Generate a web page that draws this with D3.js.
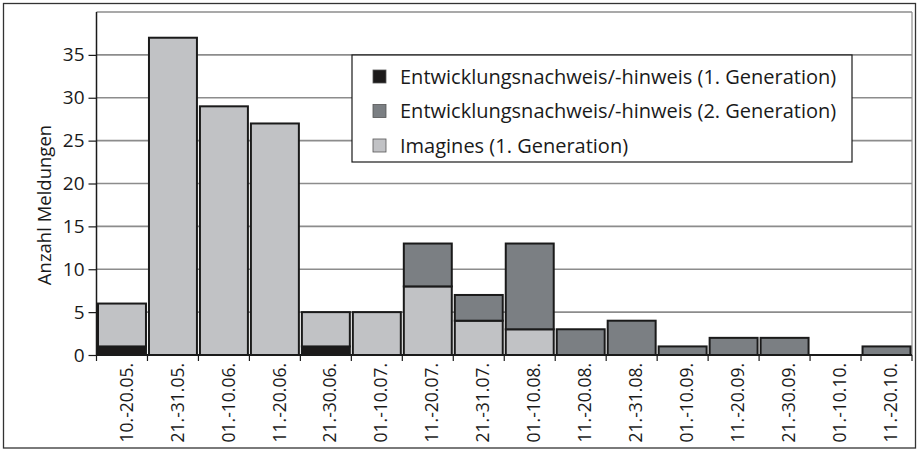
<!DOCTYPE html>
<html>
<head>
<meta charset="utf-8">
<script src="https://cdn.jsdelivr.net/npm/d3@7"></script>
<style>
  body { margin: 0; background: #fff; }
  text { font-family: "Open Sans", sans-serif; fill: #1a1a1a; }
</style>
</head>
<body>
<svg id="chart" width="918" height="451"></svg>
<script>
// decades (Dekaden) of the season
var categories = ["10.-20.05.", "21.-31.05.", "01.-10.06.", "11.-20.06.", "21.-30.06.",
  "01.-10.07.", "11.-20.07.", "21.-31.07.", "01.-10.08.", "11.-20.08.", "21.-31.08.",
  "01.-10.09.", "11.-20.09.", "21.-30.09.", "01.-10.10.", "11.-20.10."];

// number of reports per series
var dev1     = [1, 0, 0, 0, 1, 0, 0, 0, 0, 0, 0, 0, 0, 0, 0, 0];
var imagines = [5, 37, 29, 27, 4, 5, 8, 4, 3, 0, 0, 0, 0, 0, 0, 0];
var dev2     = [0, 0, 0, 0, 0, 0, 5, 3, 10, 3, 4, 1, 2, 2, 0, 1];

var seriesKeys = ["dev1", "imagines", "dev2"];
var legendNames = ["Entwicklungsnachweis/-hinweis (1. Generation)",
  "Entwicklungsnachweis/-hinweis (2. Generation)",
  "Imagines (1. Generation)"];
var legendKeys = ["dev1", "dev2", "imagines"];
var yTicks = [0, 5, 10, 15, 20, 25, 30, 35];
var yGrid = [5, 10, 15, 20, 25, 30, 35, 40];

var colors = {dev1: "#1c1a1a", dev2: "#7b7f83", imagines: "#c1c2c5"};

var width = 918, height = 451;
var margin = {top: 12, right: 6, bottom: 96, left: 96.5};

var svg = d3.select("#chart");

// outer frame
svg.append("rect")
  .attr("x", 3.5).attr("y", 3.5)
  .attr("width", 912).attr("height", 444.5)
  .attr("fill", "none")
  .attr("stroke", "#333")
  .attr("stroke-width", 1.3);

var x = d3.scaleBand()
  .domain(categories)
  .range([margin.left, width - margin.right]);

var y = d3.scaleLinear()
  .domain([0, 40])
  .range([height - margin.bottom, margin.top]);

// grid
svg.append("g")
  .selectAll("line")
  .data(yGrid)
  .join("line")
  .attr("x1", margin.left)
  .attr("x2", width - margin.right)
  .attr("y1", function(d) { return y(d); })
  .attr("y2", function(d) { return y(d); })
  .attr("stroke", "#8c8c8c")
  .attr("stroke-width", 1.6);

// right edge of plot area
svg.append("line")
  .attr("x1", width - margin.right).attr("x2", width - margin.right)
  .attr("y1", y(40)).attr("y2", y(0))
  .attr("stroke", "#8c8c8c")
  .attr("stroke-width", 1.2);

// stacked bars
var table = categories.map(function(c, i) {
  return {cat: c, dev1: dev1[i], imagines: imagines[i], dev2: dev2[i]};
});
var stacked = d3.stack().keys(seriesKeys)(table);

var gap = 1.5;
svg.append("g")
  .selectAll("g")
  .data(stacked)
  .join("g")
  .attr("fill", function(s) { return colors[s.key]; })
  .selectAll("rect")
  .data(function(s) { return s.filter(function(d) { return d[1] > d[0]; }); })
  .join("rect")
  .attr("x", function(d) { return x(d.data.cat) + gap; })
  .attr("width", x.bandwidth() - 2 * gap)
  .attr("y", function(d) { return y(d[1]); })
  .attr("height", function(d) { return y(d[0]) - y(d[1]); })
  .attr("stroke", "#1a1a1a")
  .attr("stroke-width", 2);

// y axis
var yAxis = svg.append("g")
  .attr("transform", "translate(" + margin.left + ",0)")
  .call(d3.axisLeft(y).tickValues(yTicks).tickSize(8).tickPadding(4));
yAxis.select(".domain").remove();
yAxis.append("line")
  .attr("x1", 0).attr("x2", 0)
  .attr("y1", y(40)).attr("y2", y(0))
  .attr("stroke", "#1a1a1a").attr("stroke-width", 1.5);
yAxis.selectAll(".tick line").attr("stroke", "#1a1a1a").attr("stroke-width", 1.2);
yAxis.selectAll(".tick text")
  .attr("font-size", "19px")
  .attr("font-family", "Open Sans, sans-serif")
  .attr("fill", "#1a1a1a");

// x axis
var xAxis = svg.append("g")
  .attr("transform", "translate(0," + y(0) + ")");
xAxis.append("line")
  .attr("x1", margin.left).attr("x2", width - margin.right)
  .attr("y1", 0).attr("y2", 0)
  .attr("stroke", "#1a1a1a").attr("stroke-width", 2);
var bounds = categories.map(function(c) { return x(c); }).concat([x.range()[1]]);
xAxis.selectAll("line.tk")
  .data(bounds)
  .join("line")
  .attr("class", "tk")
  .attr("x1", function(d) { return d; })
  .attr("x2", function(d) { return d; })
  .attr("y1", 0).attr("y2", 6)
  .attr("stroke", "#1a1a1a").attr("stroke-width", 1.2);
xAxis.selectAll("text")
  .data(categories)
  .join("text")
  .attr("transform", function(d) {
    return "translate(" + (x(d) + x.bandwidth() / 2 + 4.5) + ",8) rotate(-90)";
  })
  .attr("text-anchor", "end")
  .attr("dy", "0.35em")
  .attr("font-size", "17.5px")
  .text(function(d) { return d; });

// y label
svg.append("text")
  .attr("transform", "translate(45," + 205 + ") rotate(-90)")
  .attr("text-anchor", "middle")
  .attr("dy", "0.35em")
  .attr("font-size", "18.5px")
  .text("Anzahl Meldungen");

// legend
var legend = svg.append("g").attr("transform", "translate(352,55)");
legend.append("rect")
  .attr("width", 500).attr("height", 107)
  .attr("fill", "#fff")
  .attr("stroke", "#1a1a1a")
  .attr("stroke-width", 1.2);
var rows = legend.selectAll("g.row")
  .data(legendKeys)
  .join("g")
  .attr("class", "row")
  .attr("transform", function(d, i) { return "translate(0," + (21.5 + i * 34.5) + ")"; });
rows.append("rect")
  .attr("x", 21).attr("y", -6.5)
  .attr("width", 13).attr("height", 13)
  .attr("fill", function(d) { return colors[d]; })
  .attr("stroke", "#555")
  .attr("stroke-width", 0.8);
rows.append("text")
  .attr("x", 48)
  .attr("dy", "0.35em")
  .attr("font-size", "20px")
  .text(function(d, i) { return legendNames[i]; });
</script>
</body>
</html>
